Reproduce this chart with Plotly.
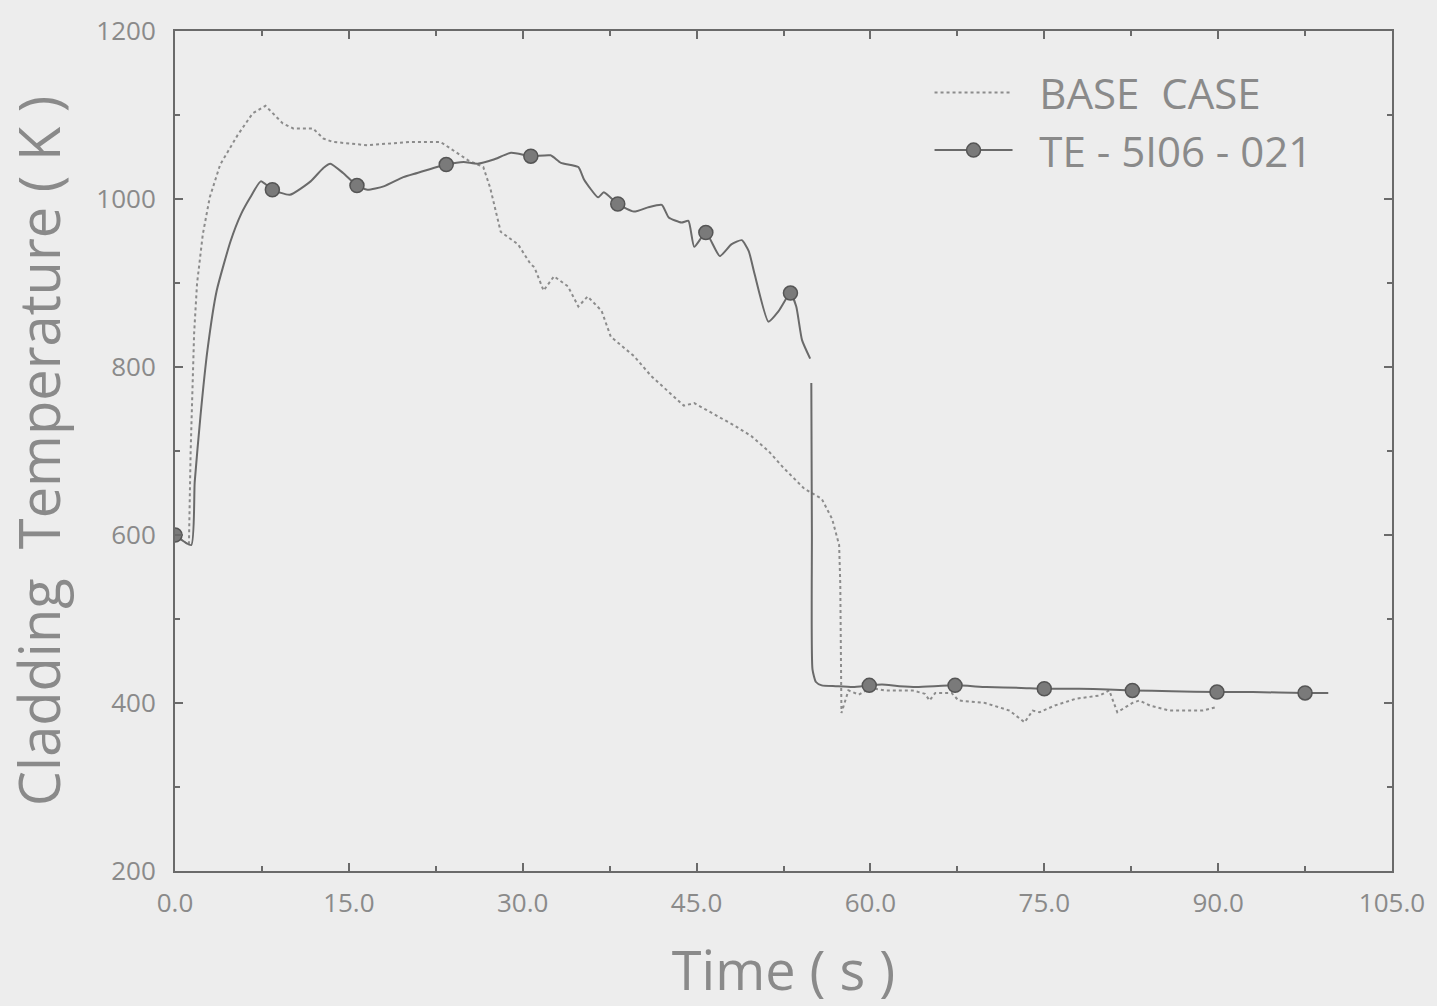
import plotly.graph_objects as go

# Cladding temperature histories (time in s, temperature in K)
base_time = [0, 1.2, 1.35, 1.5, 1.65, 1.9, 2.4, 3.0, 3.9, 5.4, 6.7, 7.8, 9.3, 10.2, 11.9,
             12.8, 13.6, 16.6, 20.3, 22.9, 24.0, 25.3, 26.6, 27.2, 28.1, 29.6, 30.7, 31.0,
             31.8, 32.7, 33.9, 34.8, 35.6, 36.8, 37.6, 39.6, 41.1, 43.9, 44.8, 48.3, 49.7,
             51.2, 52.5, 54.3, 55.8, 56.7, 57.3, 57.4, 57.45, 57.5, 58.1, 59.0, 60.0, 61.2,
             63.6, 64.7, 65.1, 65.6, 67.0, 67.6, 69.9, 72.0, 73.3, 74.0, 74.6, 75.9, 77.7,
             79.8, 80.6, 81.3, 82.6, 83.2, 84.1, 85.8, 88.7, 89.8]
base_temp = [600, 588, 700, 781, 840, 899, 958, 1002, 1041, 1076, 1102, 1111, 1090, 1084, 1084,
             1072, 1068, 1064, 1068, 1068, 1058, 1046, 1038, 1013, 961, 946, 922, 919,
             891, 908, 896, 872, 884, 867, 836, 813, 789, 754, 757, 730, 718,
             700, 680, 655, 643, 619, 588, 541, 462, 388, 415, 410, 418, 415,
             415, 411, 403, 412, 412, 403, 400, 391, 377, 391, 389, 397, 405,
             409, 415, 389, 400, 403, 397, 391, 391, 395]

te_time = [0, 1.4, 1.7, 2.2, 2.8, 3.6, 4.8, 5.7, 6.5, 7.4, 8.4, 9.9, 11.7, 12.8, 13.4, 14.5,
           15.7, 16.6, 18.0, 19.7, 20.9, 22.3, 23.4, 24.9, 26.1, 27.5, 29.0, 30.7, 32.4, 33.3,
           34.8, 35.3, 36.5, 37.0, 38.2, 39.6, 40.8, 42.0, 42.6, 43.7, 44.3, 44.8, 45.8, 47.0,
           48.0, 48.9, 49.5, 50.0, 51.2, 52.1, 53.1, 53.6, 54.1, 54.8, None, 54.9, 54.95, 55.0,
           55.3, 55.8, 57.0, 58.5, 59.9, 61.0, 62.5, 64.0, 67.3, 70.0, 73.0, 75.0, 78.0, 80.5,
           82.6, 86.0, 89.9, 93.0, 97.5, 99.5]
te_temp = [600, 588, 663, 742, 820, 891, 950, 982, 1002, 1021, 1011, 1005, 1021, 1037, 1042, 1031,
           1016, 1011, 1015, 1026, 1031, 1037, 1041, 1044, 1042, 1047, 1055, 1051, 1052, 1043,
           1038, 1023, 1002, 1008, 994, 985, 990, 993, 978, 972, 974, 943, 960, 932,
           946, 951, 938, 911, 854, 867, 888, 872, 832, 810, None, 781, 600, 440,
           425, 421, 420, 419, 421, 422, 420, 419, 421, 419, 418, 417, 417, 416,
           415, 414, 413, 413, 412, 412]

# Symbol positions along the measured curve
te_mark_time = [0, 8.4, 15.7, 23.4, 30.7, 38.2, 45.8, 53.1, 59.9, 67.3, 75.0, 82.6, 89.9, 97.5]
te_mark_temp = [600, 1011, 1016, 1041, 1051, 994, 960, 888, 421, 421, 417, 415, 413, 412]

series_names = ["  BASE  CASE", "  TE - 5I06 - 021"]
x_ticks = [0, 15, 30, 45, 60, 75, 90, 105]
y_ticks = [200, 400, 600, 800, 1000, 1200]

BG = "#ededed"
INK = "#6a6a6a"
TXT = "#8a8a8a"
FONT = "Open Sans"

fig = go.Figure()

fig.add_trace(go.Scatter(
    x=base_time, y=base_temp, mode="lines", name=series_names[0],
    line=dict(color="#8c8c8c", width=2, dash="dot"),
))
fig.add_trace(go.Scatter(
    x=te_time, y=te_temp, mode="lines", showlegend=False, connectgaps=False,
    line=dict(color=INK, width=2, shape="spline", smoothing=0.5),
))
fig.add_trace(go.Scatter(
    x=te_mark_time, y=te_mark_temp, mode="markers", showlegend=False,
    marker=dict(symbol="circle", size=14, color="#7a7a7a",
                line=dict(color="#555555", width=1.5)),
))
# legend entry for the measured curve (line with symbol)
fig.add_trace(go.Scatter(
    x=[None], y=[None], mode="lines+markers", name=series_names[1],
    line=dict(color=INK, width=2),
    marker=dict(symbol="circle", size=14, color="#7a7a7a",
                line=dict(color="#555555", width=1.5)),
))

axis_common = dict(
    showline=True, linecolor=INK, linewidth=2, mirror="allticks",
    ticks="inside", ticklen=8, tickwidth=1.5, tickcolor=INK,
    showgrid=False, zeroline=False,
    tickfont=dict(family=FONT, size=26, color=TXT),
)

fig.update_layout(
    width=1437, height=1006,
    paper_bgcolor=BG, plot_bgcolor=BG,
    margin=dict(l=175, r=44, t=25, b=134),
    showlegend=True,
    legend=dict(
        x=0.62, y=0.967, xanchor="left", yanchor="top",
        bgcolor="rgba(0,0,0,0)", borderwidth=0,
        font=dict(family=FONT, size=42, color=TXT),
        itemwidth=78, tracegroupgap=0,
    ),
    xaxis=dict(
        range=[0, 105], tickvals=x_ticks,
        ticktext=[f"{v:.1f}" for v in x_ticks],
        minor=dict(dtick=7.5, tick0=0, ticks="inside", ticklen=5, tickcolor=INK),
        title=dict(text="Time ( s )", font=dict(family=FONT, size=54, color=TXT), standoff=36),
        ticklabelstandoff=8,
        **axis_common,
    ),
    yaxis=dict(
        range=[200, 1200], tickvals=y_ticks,
        minor=dict(dtick=100, tick0=200, ticks="inside", ticklen=5, tickcolor=INK),
        title=dict(text="Cladding  Temperature ( K )",
                   font=dict(family=FONT, size=56, color=TXT), standoff=18),
        ticklabelstandoff=12,
        **axis_common,
    ),
)

fig.write_html("out.html")
